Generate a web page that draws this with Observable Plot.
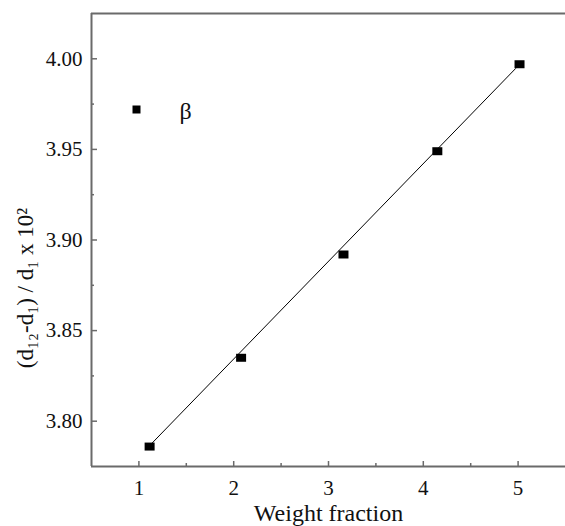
<!DOCTYPE html>
<html>
<head>
<meta charset="utf-8">
<script src="https://cdn.jsdelivr.net/npm/d3@7"></script>
<script src="https://cdn.jsdelivr.net/npm/@observablehq/plot@0.6"></script>
<style>
  html, body { margin: 0; padding: 0; background: white; }
  #chart svg, #chart svg text { font-family: 'Liberation Serif', 'Times New Roman', serif !important; font-variant: normal !important; }
</style>
</head>
<body>
<div id="chart"></div>
<script>
// Data
const weightFraction = [1.113, 2.078, 3.158, 4.148, 5.015];
const ratio = [3.786, 3.835, 3.892, 3.949, 3.997];
const fitX = [1.135, 4.973];
const fitY = [3.7877, 3.9946];
const xDomain = [0.5, 5.5];
const yDomain = [3.775, 4.025];
const xTicks = [1, 2, 3, 4, 5];
const xMinorTicks = [1.5, 2.5, 3.5, 4.5];
const yTicks = [3.80, 3.85, 3.90, 3.95, 4.00];
const yMinorTicks = [3.825, 3.875, 3.925, 3.975];
const xLabel = "Weight fraction";
const yLabel = "(d\u2081\u2082-d\u2081) / d\u2081 x 10\u00B2";
const legendLabel = "\u03B2";

const W = 565, H = 526, ML = 91, MR = 0, MT = 13, MB = 60;
const innerW = W - ML - MR, innerH = H - MT - MB;
const axisColor = "#6a6a6a";
const serif = "'Liberation Serif', 'Times New Roman', serif";

function rectSymbol(w, h) {
  return { draw(ctx) { ctx.rect(-w / 2, -h / 2, w, h); } };
}

const points = weightFraction.map((x, i) => ({ x, y: ratio[i] }));
const fit = fitX.map((x, i) => ({ x, y: fitY[i] }));

const chart = Plot.plot({
  width: W, height: H,
  marginLeft: ML, marginRight: MR, marginTop: MT, marginBottom: MB,
  x: { domain: xDomain },
  y: { domain: yDomain },
  style: { fontFamily: serif, fontSize: "20px", background: "white", color: "black" },
  marks: [
    Plot.axisY(yTicks, { tickSize: 0, tickPadding: 9, tickFormat: d => d.toFixed(2), label: null, fontSize: 21, fontFamily: serif, fill: "#111" }),
    Plot.axisX(xTicks, { tickSize: 0, tickPadding: 14, tickFormat: d => String(d), label: null, fontSize: 21, fontFamily: serif, fill: "#111" }),
    // inward ticks
    Plot.tickY(yTicks, { y: d => d, insetRight: innerW - 6, stroke: axisColor, strokeWidth: 1.5 }),
    Plot.tickY(yMinorTicks, { y: d => d, insetRight: innerW - 3, stroke: axisColor, strokeWidth: 1.5 }),
    Plot.tickX(xTicks, { x: d => d, insetTop: innerH - 5, stroke: axisColor, strokeWidth: 1.5 }),
    Plot.tickX(xMinorTicks, { x: d => d, insetTop: innerH - 3, stroke: axisColor, strokeWidth: 1.5 }),
    // frame: left, top, bottom
    Plot.ruleX([xDomain[0]], { stroke: axisColor, strokeWidth: 2 }),
    Plot.ruleY(yDomain, { stroke: axisColor, strokeWidth: 2 }),
    // fit line
    Plot.line(fit, { x: "x", y: "y", stroke: "black", strokeWidth: 1 }),
    // data points
    Plot.dot(points, { x: "x", y: "y", symbol: rectSymbol(10, 8), fill: "black", stroke: "none" }),
    // legend
    Plot.dot([legendLabel], { frameAnchor: "top-left", dx: 45, dy: 96, symbol: rectSymbol(8, 8), fill: "black", stroke: "none" }),
    Plot.text([legendLabel], { frameAnchor: "top-left", dx: 94, dy: 98, text: d => d, fontSize: 24, fontFamily: serif, textAnchor: "middle", lineAnchor: "middle", fill: "#111" }),
    // axis titles
    Plot.text([xLabel], { frameAnchor: "bottom", dy: 54, text: d => d, fontSize: 24, fontFamily: serif, textAnchor: "middle", lineAnchor: "bottom", fill: "#111" }),
    Plot.text([yLabel], { frameAnchor: "left", dx: -66, dy: 48, rotate: -90, text: d => d, fontSize: 23, fontFamily: serif, textAnchor: "middle", lineAnchor: "middle", fill: "#111" })
  ]
});
document.getElementById("chart").appendChild(chart);
</script>
</body>
</html>
